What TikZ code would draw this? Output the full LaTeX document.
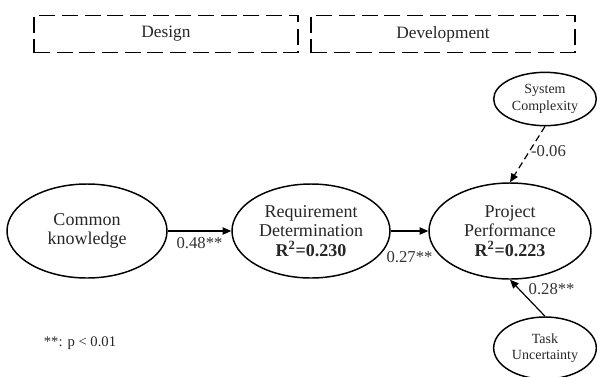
\documentclass[tikz,border=0pt]{standalone}
\usepackage{fontspec}
\setmainfont{Liberation Serif}
\usetikzlibrary{shapes, arrows.meta, positioning}

\begin{document}
\begin{tikzpicture}[
  x=0.75pt, y=-0.75pt,
  phasebox/.style={draw, line width=0.9pt, dash pattern=on 12pt off 5pt, minimum width=198pt, minimum height=28pt, inner sep=0pt, font=\fontsize{13}{14}\selectfont, text=black!85},
  construct/.style={draw, ellipse, line width=1.1pt, inner sep=0pt, align=center, font=\fontsize{13.5}{14.5}\selectfont, text=black!85},
  moderator/.style={draw, ellipse, line width=1.1pt, inner sep=0pt, minimum width=77pt, align=center, font=\fontsize{10.5}{12.5}\selectfont, text=black!85},
  path/.style={line width=0.9pt, -{Triangle[length=6.5pt, width=5.5pt]}},
  coef/.style={font=\fontsize{12.5}{14}\selectfont, text=black!80, inner sep=1pt}
]
  \useasboundingbox (0,0) rectangle (597,376);

  \node[phasebox] (design) at (166,34) {Design};
  \node[phasebox] (devel) at (443,34) {Development};

  \node[construct, minimum width=120pt, minimum height=70.5pt] (ck) at (87,231) {Common\\knowledge};
  \node[construct, minimum width=118.5pt, minimum height=70.5pt] (rd) at (311,231) {Requirement\\Determination\\\textbf{R\textsuperscript{2}=0.230}};
  \node[construct, minimum width=121.5pt, minimum height=72pt] (pp) at (510,231) {Project\\Performance\\\textbf{R\textsuperscript{2}=0.223}};

  \node[moderator, minimum height=40pt] (sc) at (545,99) {System\\Complexity};
  \node[moderator, minimum height=46.5pt] (tu) at (545,348) {Task\\Uncertainty};

  \draw[path] (ck) -- node[coef, below=3pt] {0.48**} (rd);
  \draw[path] (rd) -- node[coef, below=14pt] {0.27**} (pp);
  \draw[path, dash pattern=on 5pt off 3pt] (sc.south) -- node[coef, right, pos=0.45] {-0.06} (pp.north);
  \draw[path] (tu.north) -- node[coef, right, pos=0.75, xshift=6pt] {0.28**} (pp.south);

  \node[font=\fontsize{11}{13}\selectfont, text=black!85] (note) at (80,343) {**: p {\textless} 0.01};
\end{tikzpicture}
\end{document}
